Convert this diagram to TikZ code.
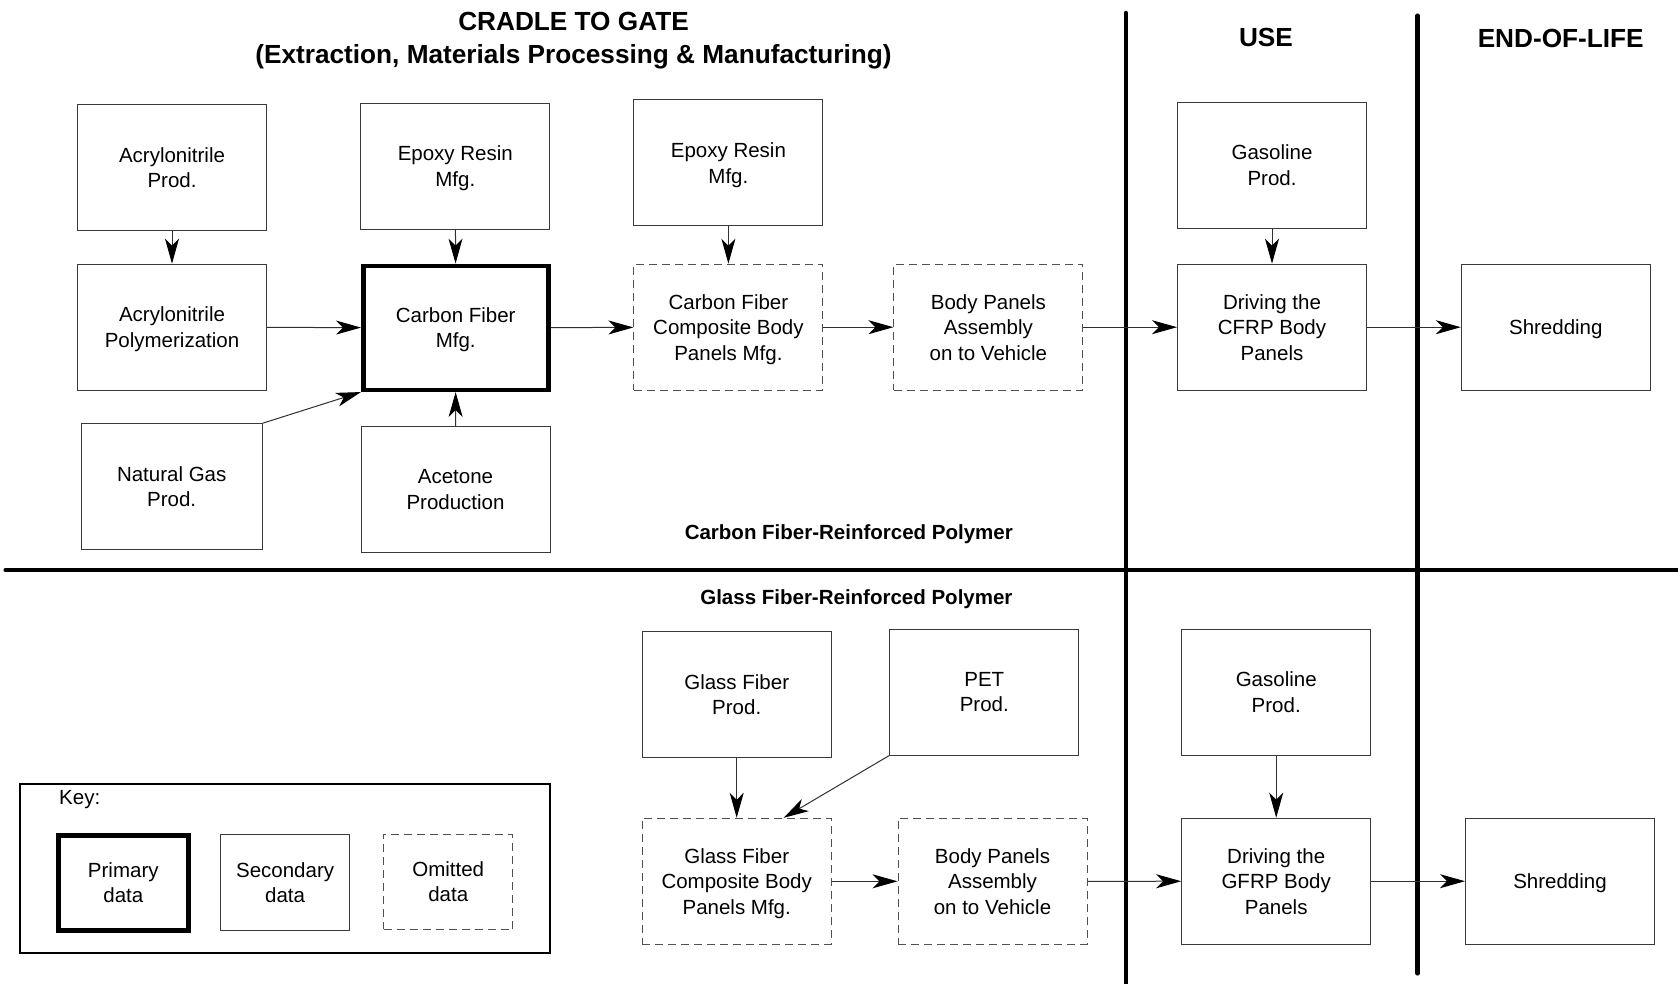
\documentclass[tikz,border=0pt]{standalone}
\usepackage{fontspec}
\setmainfont{Liberation Sans}
\usetikzlibrary{arrows.meta,calc}
\definecolor{boxcol}{HTML}{3A3A3A}
\definecolor{dashcol}{HTML}{505050}
\definecolor{linecol}{HTML}{303030}
\begin{document}
\begin{tikzpicture}[x=1pt,y=-1pt,
  box/.style={draw=boxcol, line width=1pt, minimum width=189pt, minimum height=126pt, inner sep=0pt, text depth=0pt, align=center, font=\fontsize{20.5}{25.5}\selectfont},
  primary/.style={box, draw=black, line width=4.5pt, minimum width=185pt, minimum height=124pt},
  omitted/.style={box, draw=dashcol, dash pattern=on 8pt off 5pt},
  conn/.style={draw=linecol, line width=1pt, -{Stealth[length=25pt,width=14pt,inset=7pt,color=black]}},
  divider/.style={line width=4.5pt, line cap=round, draw=black},
  hd/.style={font=\fontsize{26.2}{33}\selectfont\bfseries, align=center},
  sub/.style={font=\fontsize{20.5}{25}\selectfont\bfseries}
]
\useasboundingbox (0,0) rectangle (1678,984);

% headings
\node[hd] (title) at (573.5,41) {CRADLE TO GATE\\(Extraction, Materials Processing \& Manufacturing)};
\node[hd] (use) at (1266,37.7) {USE};
\node[hd] (eol) at (1560.7,38) {END-OF-LIFE};
\node[sub] (cfrp) at (848.8,534.5) {Carbon Fiber-Reinforced Polymer};
\node[sub] (gfrp) at (856.4,599) {Glass Fiber-Reinforced Polymer};

% upper row (CFRP)
\node[box] (acp) at (172,167.7) {Acrylonitrile\\Prod.};
\node[box] (apo) at (172,327.2) {Acrylonitrile\\Polymerization};
\node[box] (ep1) at (455.3,166.2) {Epoxy Resin\\Mfg.};
\node[primary] (cf) at (455.75,327.8) {Carbon Fiber\\Mfg.};
\node[box, minimum width=181pt] (ng) at (171.7,486.7) {Natural Gas\\Prod.};
\node[box] (ac) at (455.5,489.5) {Acetone\\Production};
\node[box] (ep2) at (728.4,162.9) {Epoxy Resin\\Mfg.};
\node[omitted] (cfc) at (728.4,327.2) {Carbon Fiber\\Composite Body\\Panels Mfg.};
\node[omitted] (bp1) at (988.4,327.2) {Body Panels\\Assembly\\on to Vehicle};
\node[box] (gas1) at (1272,165.3) {Gasoline\\Prod.};
\node[box] (dr1) at (1272,327.2) {Driving the\\CFRP Body\\Panels};
\node[box] (sh1) at (1555.8,327.2) {Shredding};

% lower row (GFRP)
\node[box] (gfp) at (736.7,694.5) {Glass Fiber\\Prod.};
\node[box] (pet) at (984.3,692) {PET\\Prod.};
\node[omitted] (gfc) at (736.7,881.3) {Glass Fiber\\Composite Body\\Panels Mfg.};
\node[omitted] (bp2) at (992.5,881.3) {Body Panels\\Assembly\\on to Vehicle};
\node[box] (gas2) at (1276.2,692) {Gasoline\\Prod.};
\node[box] (dr2) at (1276.2,881.2) {Driving the\\GFRP Body\\Panels};
\node[box] (sh2) at (1560,881.2) {Shredding};

% key
\node[draw=black, line width=2.5pt, minimum width=530pt, minimum height=169pt, inner sep=0pt] (keybox) at (285,868.4) {};
\node[anchor=west, font=\fontsize{20.5}{25}\selectfont, inner sep=0pt] (keylbl) at (59,800) {Key:};
\node[primary, minimum width=130pt, minimum height=95pt] (kp) at (123.3,882.8) {Primary\\data};
\node[box, minimum width=128.6pt, minimum height=96pt] (ks) at (285.1,882.7) {Secondary\\data};
\node[omitted, minimum width=129.3pt, minimum height=95.3pt] (ko) at (448.2,881.7) {Omitted\\data};

% dividers
\coordinate (v1t) at (1125.8,13);
\coordinate (v1b) at (1125.8,984);
\coordinate (v2t) at (1417.7,15.7);
\coordinate (v2b) at (1417.7,973.3);
\coordinate (hl) at (5.7,570);
\coordinate (hr) at (1678,570);
\draw[divider] (hl) -- (hr);
\draw[divider] (v1t) -- (v1b);
\draw[divider] (v2t) -- (v2b);

% connectors upper
\draw[conn] (acp) -- (apo);
\draw[conn] (ep1) -- (cf);
\draw[conn] (apo) -- (cf);
\draw[conn] (ng.north east) -- (cf.south west);
\draw[conn] (ac) -- (cf);
\draw[conn] (cf) -- (cfc);
\draw[conn] (ep2) -- (cfc);
\draw[conn] (cfc) -- (bp1);
\draw[conn] (bp1) -- (dr1);
\draw[conn] (gas1) -- (dr1);
\draw[conn] (dr1) -- (sh1);

% connectors lower
\coordinate (gfctop) at ($(gfc.north)+(47,0)$);
\draw[conn] (gfp) -- (gfc);
\draw[conn] (pet.south west) -- (gfctop);
\draw[conn] (gfc) -- (bp2);
\draw[conn] (bp2) -- (dr2);
\draw[conn] (gas2) -- (dr2);
\draw[conn] (dr2) -- (sh2);
\end{tikzpicture}
\end{document}
